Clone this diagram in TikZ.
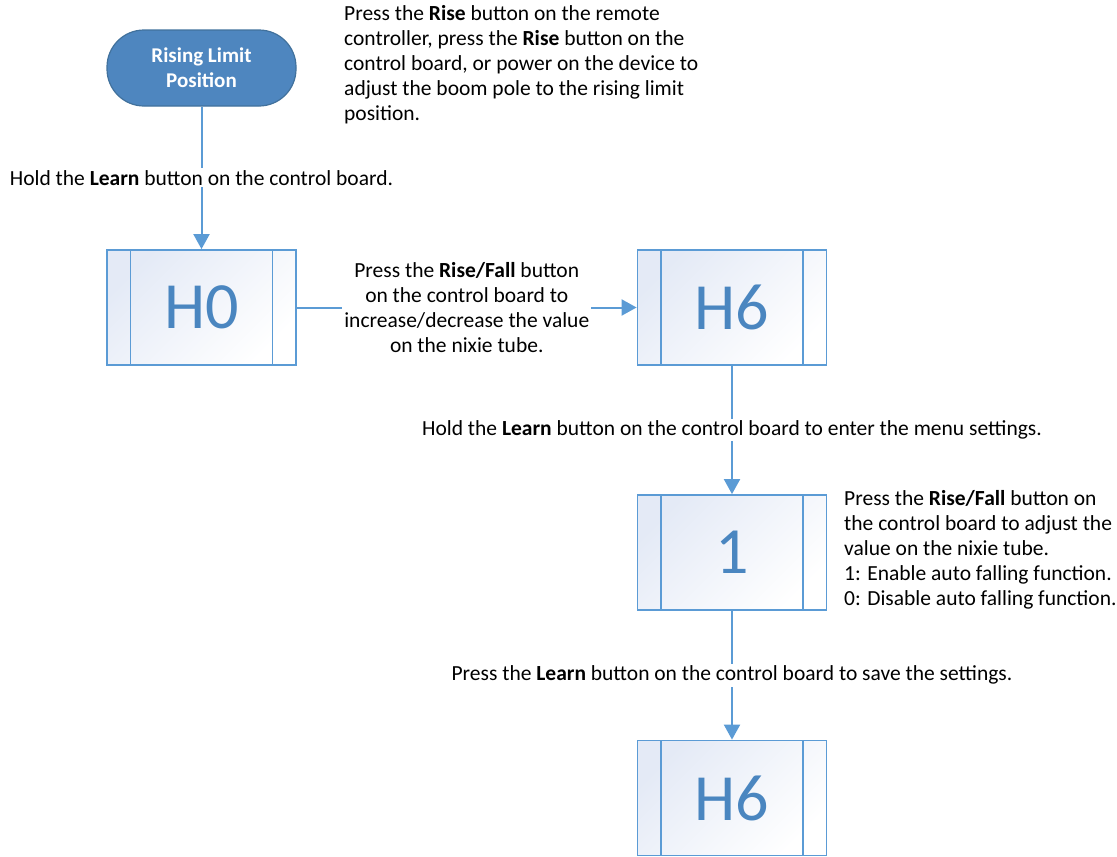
\documentclass[tikz,border=0pt]{standalone}
\usepackage{fontspec}
\setmainfont{Carlito}
\usetikzlibrary{arrows.meta}
\definecolor{lineblue}{HTML}{5B9BD5}
\definecolor{termfill}{HTML}{4E86BF}
\definecolor{termdraw}{HTML}{41719C}
\definecolor{numblue}{HTML}{4A86C0}
\definecolor{boxtop}{HTML}{E4EAF6}
\tikzset{
  txt/.style={font=\fontsize{21.5}{25}\selectfont, text=black, inner sep=2pt},
  lbl/.style={txt, fill=white, align=center},
  nixie/.style={draw=lineblue, line width=1.8pt, minimum width=189pt, minimum height=115pt,
    inner sep=0pt, top color=boxtop, bottom color=white, shading angle=45,
    font=\fontsize{66}{66}\selectfont, text=numblue,
    path picture={
      \draw[lineblue, line width=1.8pt] ([xshift=23.5pt]path picture bounding box.north west) -- ([xshift=23.5pt]path picture bounding box.south west);
      \draw[lineblue, line width=1.8pt] ([xshift=-23.5pt]path picture bounding box.north east) -- ([xshift=-23.5pt]path picture bounding box.south east);
    }},
  term/.style={draw=termdraw, line width=1.2pt, fill=termfill, rounded corners=37pt,
    minimum width=189pt, minimum height=76pt, align=center, text=white,
    font=\fontsize{21}{25}\selectfont\bfseries},
  conn/.style={draw=lineblue, line width=2pt, -{Triangle[length=15pt,width=16pt]}},
}
\begin{document}
\begin{tikzpicture}[x=1pt,y=-1pt]
\useasboundingbox (0,0) rectangle (1117,857);
\node[term] (start) at (201.5,68) {Rising Limit\\Position};
\node[nixie] (h0) at (201.5,307.5) {H0};
\node[nixie] (h6) at (732,307.5) {H6};
\node[nixie] (one) at (732,552.5) {1};
\node[nixie] (h6b) at (732,798) {H6};
\draw[conn] (start) -- node[lbl] {Hold the \textbf{Learn} button on the control board.} (h0);
\draw[conn] (h0) -- node[lbl] {Press the \textbf{Rise/Fall} button\\on the control board to\\increase/decrease the value\\on the nixie tube.} (h6);
\draw[conn] (h6) -- node[lbl] {Hold the \textbf{Learn} button on the control board to enter the menu settings.} (one);
\draw[conn] (one) -- node[lbl] {Press the \textbf{Learn} button on the control board to save the settings.} (h6b);
\node[txt, align=left, anchor=north west] (note1) at (342,3) {Press the \textbf{Rise} button on the remote\\controller, press the \textbf{Rise} button on the\\control board, or power on the device to\\adjust the boom pole to the rising limit\\position.};
\node[txt, align=left, anchor=north west] (note2) at (842,488) {Press the \textbf{Rise/Fall} button on\\the control board to adjust the\\value on the nixie tube.\\1: Enable auto falling function.\\0: Disable auto falling function.};
\end{tikzpicture}
\end{document}
